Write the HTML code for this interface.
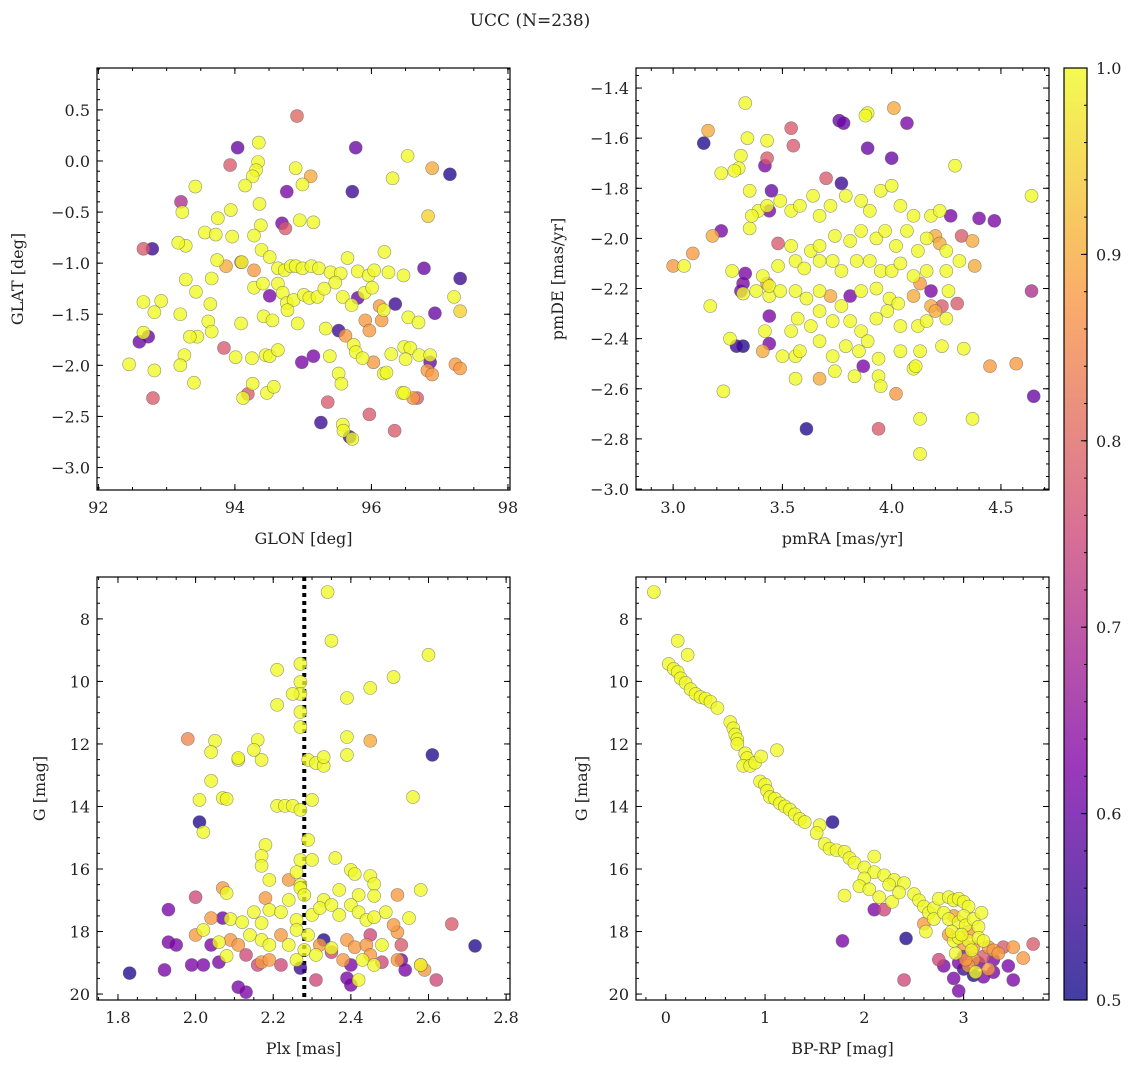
<!DOCTYPE html>
<html><head><meta charset="utf-8"><style>
body{margin:0;background:#fff}
svg text{font-family:"DejaVu Serif","Liberation Serif",serif;fill:#222}
</style></head><body>
<svg id="fig" width="1136" height="1067" xmlns="http://www.w3.org/2000/svg">
<defs><linearGradient id="plasma" x1="0" y1="1" x2="0" y2="0">
<stop offset="0" stop-color="#0d0887"/><stop offset="0.25" stop-color="#7e03a8"/><stop offset="0.5" stop-color="#cc4778"/><stop offset="0.75" stop-color="#f89540"/><stop offset="1" stop-color="#f0f921"/></linearGradient></defs>
<text x="530" y="26" font-size="17" text-anchor="middle">UCC (N=238)</text>
</svg>
<script>
const p1x=[94.91,94.04,94.35,95.77,96.53,96.89,97.15,93.93,94.34,94.31,94.26,94.89,95.11,94.15,93.42,94.76,94.99,96.31,95.72,93.21,93.23,94.36,93.75,93.94,94.38,93.96,94.28,94.69,94.74,94.95,95.15,96.83,92.79,92.66,93.28,93.17,93.56,93.72,93.74,93.87,94.1,94.39,94.51,94.63,94.73,94.82,94.89,94.99,95.12,95.23,95.4,95.55,95.65,95.8,95.96,96.04,96.19,96.25,96.47,96.77,97.3,93.28,93.43,93.64,93.66,94.09,94.28,94.28,94.41,94.51,94.63,94.7,94.76,94.86,95.01,95.09,95.21,95.31,95.47,95.58,95.71,95.8,95.9,96.01,96.12,96.18,96.35,96.54,96.69,96.93,97.21,97.3,92.6,92.66,92.66,92.82,92.92,93.2,93.45,93.61,93.66,94.09,94.42,94.55,94.77,94.92,95.33,95.52,95.62,95.74,95.91,95.97,96.15,96.29,96.48,96.57,96.7,96.86,92.73,93.34,93.84,94.01,94.25,94.45,94.51,94.63,94.98,95.15,95.39,95.77,95.87,96.03,96.18,96.22,96.5,97.23,97.3,96.86,92.45,92.82,93.26,94.26,94.47,94.57,95.52,95.56,96.82,96.67,96.89,93.4,94.12,94.19,96.45,96.48,96.61,95.36,95.97,95.26,95.58,95.59,95.68,95.72,96.34,92.8,93.2];
const p1y=[0.44,0.13,0.18,0.13,0.05,-0.07,-0.13,-0.04,-0.01,-0.09,-0.15,-0.07,-0.15,-0.24,-0.25,-0.3,-0.23,-0.17,-0.3,-0.4,-0.5,-0.42,-0.56,-0.48,-0.63,-0.74,-0.73,-0.61,-0.66,-0.58,-0.6,-0.54,-0.86,-0.86,-0.83,-0.8,-0.7,-0.72,-0.97,-1.03,-0.99,-0.87,-0.94,-1.05,-1.07,-1.03,-1.03,-1.05,-1.03,-1.05,-1.09,-1.1,-0.95,-1.08,-1.12,-1.07,-0.89,-1.09,-1.12,-1.05,-1.15,-1.16,-1.28,-1.4,-1.15,-0.99,-1.07,-1.24,-1.2,-1.32,-1.2,-1.29,-1.39,-1.36,-1.31,-1.34,-1.33,-1.25,-1.19,-1.33,-1.41,-1.34,-1.29,-1.24,-1.42,-1.46,-1.4,-1.53,-1.58,-1.49,-1.33,-1.47,-1.77,-1.68,-1.38,-1.48,-1.37,-1.5,-1.72,-1.57,-1.67,-1.59,-1.52,-1.56,-1.46,-1.59,-1.64,-1.66,-1.71,-1.8,-1.56,-1.66,-1.56,-1.89,-1.82,-1.83,-1.9,-1.97,-1.72,-1.72,-1.83,-1.92,-1.93,-1.9,-1.91,-1.85,-1.97,-1.91,-1.91,-1.87,-1.93,-1.97,-2.08,-2.07,-1.94,-1.99,-2.03,-1.9,-1.99,-2.05,-1.9,-2.18,-2.27,-2.21,-2.08,-2.18,-2.05,-2.32,-2.09,-2.17,-2.32,-2.28,-2.27,-2.27,-2.32,-2.36,-2.48,-2.56,-2.58,-2.64,-2.7,-2.72,-2.64,-2.32,-2.0];
const p1c=[.8,.6,1,.6,1,.9,.52,.78,1,1,1,1,.9,1,1,.62,1,1,.55,.7,1,1,1,1,1,1,1,.62,.78,1,1,.95,.55,.78,1,1,1,1,1,.9,1,1,1,1,1,1,1,1,1,1,1,1,1,1,1,1,1,1,1,.6,.55,1,1,1,1,.78,.88,1,1,.62,1,1,1,1,1,1,1,1,1,1,1,.6,1,1,.88,1,.55,1,1,.6,1,.95,.6,1,1,1,1,1,1,1,1,1,1,1,1,1,1,.55,.88,1,.88,.88,.88,1,1,1,1,.6,.6,1,.78,1,1,1,1,1,.62,.62,1,1,1,.88,1,1,1,.88,.88,1,1,1,1,1,1,1,1,1,.88,.78,.88,1,1,.78,1,1,.88,.78,.78,.55,1,1,.55,1,.78,.78,1];

const p2x=[3.33,3.16,3.14,3.34,3.31,3.3,3.22,3.28,3.43,3.43,3.42,3.45,3.54,3.55,3.76,3.78,3.89,3.88,4.01,4.07,3.89,4.0,4.29,3.77,3.7,3.35,3.39,3.43,3.49,3.54,3.58,3.64,3.67,3.72,3.79,3.86,3.9,3.95,4.0,4.04,4.1,4.18,4.22,4.2,4.27,4.37,4.4,4.64,3.18,3.22,3.35,3.36,3.44,3.48,3.54,3.63,3.67,3.74,3.81,3.86,3.93,3.97,4.02,4.07,4.12,4.16,4.22,4.25,4.32,3.0,3.09,3.05,3.27,3.33,3.41,3.43,3.48,3.56,3.6,3.67,3.73,3.77,3.84,3.9,3.95,4.0,4.04,4.1,4.16,4.25,4.31,4.38,3.17,3.32,3.31,3.32,3.38,3.44,3.44,3.49,3.56,3.61,3.67,3.72,3.77,3.81,3.86,3.93,3.99,4.03,4.1,4.13,4.18,4.23,4.3,4.26,4.18,3.26,3.29,3.42,3.44,3.54,3.57,3.63,3.67,3.73,3.81,3.86,3.93,3.98,4.04,4.12,4.16,4.2,4.25,3.32,3.44,3.5,3.56,3.58,3.67,3.73,3.79,3.85,3.89,3.94,4.04,4.13,4.23,4.33,3.41,3.56,3.67,3.74,3.83,3.87,3.94,4.1,4.11,4.45,4.57,4.64,3.23,3.61,3.95,4.02,4.13,3.94,4.13,4.37,4.65,4.47];
const p2y=[-1.46,-1.57,-1.62,-1.6,-1.67,-1.72,-1.74,-1.73,-1.61,-1.68,-1.71,-1.81,-1.56,-1.63,-1.53,-1.54,-1.5,-1.51,-1.48,-1.54,-1.64,-1.68,-1.71,-1.78,-1.76,-1.81,-1.89,-1.87,-1.85,-1.89,-1.87,-1.83,-1.91,-1.87,-1.83,-1.85,-1.89,-1.81,-1.79,-1.87,-1.91,-1.91,-1.89,-1.99,-1.91,-2.01,-1.92,-1.83,-1.99,-1.97,-1.96,-1.91,-1.89,-2.02,-2.03,-2.05,-2.03,-1.99,-2.01,-1.97,-2.0,-1.97,-2.03,-1.97,-2.05,-2.0,-2.02,-2.05,-1.99,-2.11,-2.06,-2.11,-2.13,-2.14,-2.15,-2.18,-2.11,-2.09,-2.12,-2.09,-2.09,-2.13,-2.09,-2.09,-2.13,-2.13,-2.1,-2.15,-2.13,-2.13,-2.09,-2.11,-2.27,-2.18,-2.21,-2.22,-2.21,-2.23,-2.19,-2.21,-2.21,-2.24,-2.21,-2.23,-2.27,-2.23,-2.21,-2.2,-2.24,-2.26,-2.23,-2.18,-2.21,-2.27,-2.26,-2.21,-2.27,-2.4,-2.43,-2.37,-2.31,-2.37,-2.32,-2.35,-2.29,-2.33,-2.33,-2.37,-2.32,-2.29,-2.35,-2.35,-2.33,-2.29,-2.32,-2.43,-2.42,-2.47,-2.47,-2.45,-2.41,-2.47,-2.43,-2.45,-2.41,-2.48,-2.45,-2.45,-2.43,-2.44,-2.45,-2.56,-2.56,-2.53,-2.55,-2.51,-2.55,-2.52,-2.51,-2.51,-2.5,-2.21,-2.61,-2.76,-2.59,-2.62,-2.72,-2.76,-2.86,-2.72,-2.63,-1.93];
const p2c=[1,.9,.52,1,1,1,1,1,1,.78,.62,.6,.78,.78,.6,.6,1,1,.9,.62,.6,.6,1,.55,.78,1,1,1,1,1,1,1,1,1,1,1,1,1,1,1,1,1,1,.9,.62,.9,.62,1,.9,.62,1,1,.62,.78,1,1,1,1,1,1,1,1,1,1,1,1,.9,1,.78,.88,.88,1,1,.62,1,.88,1,1,1,1,1,1,1,1,1,1,1,1,1,1,1,.9,1,.62,.62,1,1,1,1,1,1,1,1,.9,1,.62,1,1,1,1,.9,.88,.62,.78,.78,1,.9,1,.55,1,.62,1,1,1,1,1,1,1,1,1,1,1,1,.9,1,.52,.62,1,1,1,1,1,1,1,1,1,1,1,1,1,.9,1,.9,1,1,.62,1,1,1,.88,.88,.7,1,.52,1,.88,1,.78,1,1,.6,.62];

const p3x=[2.34,2.35,2.6,2.21,2.27,2.27,2.27,2.25,2.27,2.51,2.45,2.39,2.21,1.98,2.05,2.04,2.16,2.11,2.11,2.17,2.15,2.27,2.29,2.31,2.33,2.33,2.39,2.39,2.45,2.61,2.04,2.01,2.07,2.08,2.21,2.23,2.25,2.27,2.3,2.01,2.02,2.29,2.56,2.18,2.17,2.27,2.26,2.3,2.36,2.4,2.41,2.45,2.27,2.17,2.19,2.0,1.93,2.07,2.08,2.18,2.24,2.27,2.28,2.33,2.37,2.42,2.46,2.46,2.52,2.55,2.58,2.52,2.53,2.53,2.59,2.62,2.72,2.66,2.04,2.07,2.09,2.12,2.15,2.17,2.19,2.22,2.24,2.26,2.3,2.32,2.35,2.37,2.4,2.42,2.44,2.46,2.49,2.51,1.93,1.95,2.0,2.02,2.04,2.06,2.09,2.11,2.14,2.17,2.19,2.22,2.24,2.26,2.29,2.32,2.33,2.35,2.39,2.41,2.44,2.45,2.48,2.06,2.08,2.13,2.17,2.19,2.22,2.26,2.28,2.31,2.35,2.38,2.4,2.43,2.45,2.48,2.52,2.58,1.92,1.99,2.02,2.16,2.27,2.31,2.39,2.4,2.42,2.46,2.54,1.83,2.11,2.13,2.58];
const p3y=[7.14,8.7,9.15,9.63,9.44,10.02,10.4,10.4,10.98,9.86,10.21,10.53,10.75,11.84,11.9,12.26,11.87,12.51,12.45,12.51,12.19,11.46,12.51,12.61,12.7,12.42,12.35,11.78,11.9,12.35,13.18,13.79,13.73,13.76,13.98,13.98,13.98,14.11,13.79,14.5,14.82,15.07,13.7,15.23,15.58,15.71,16.1,15.71,15.65,16.03,16.16,16.22,16.51,15.9,16.35,16.9,17.3,16.61,16.77,16.93,16.35,16.61,16.83,16.99,16.67,16.83,16.48,16.86,16.83,17.57,16.67,18.02,18.43,18.91,19.23,19.55,18.46,17.76,17.57,17.57,17.6,17.7,17.38,17.73,17.31,17.38,16.99,17.63,17.47,17.25,17.15,17.47,17.15,17.38,17.63,17.54,17.38,17.79,18.34,18.43,18.11,17.95,18.43,18.34,18.27,18.43,18.11,18.27,18.43,18.11,18.43,17.95,18.11,18.43,18.27,18.53,18.27,18.5,18.43,18.11,18.43,18.98,18.78,18.75,18.98,18.91,19.07,18.91,18.59,18.75,18.66,18.91,19.07,18.91,18.75,18.98,18.91,19.07,19.23,19.07,19.07,19.07,19.17,19.55,19.49,19.71,19.55,19.07,19.23,19.33,19.78,19.94,19.07];
const p3c=[1,1,1,1,1,1,1,1,1,1,1,1,1,.85,1,1,1,1,1,1,1,1,1,1,1,1,1,1,.9,.52,1,1,1,1,1,1,1,1,1,.52,1,1,1,1,1,1,1,1,1,1,1,1,1,1,1,.75,.62,.88,1,.88,.88,1,1,1,1,1,1,1,.88,1,1,.88,.78,.62,.88,.75,.52,.78,.88,.6,1,1,1,1,1,1,1,1,1,1,1,1,1,1,1,1,1,.88,.62,.62,.88,1,.62,1,.88,.88,1,1,1,.88,1,1,1,.88,.52,1,.88,.88,.88,.75,1,.62,1,.75,.88,.88,.75,1,1,1,.75,.88,.62,1,.88,.75,.88,.88,.62,.62,.62,.75,.55,.75,.62,.62,1,1,.62,.52,.62,.62,1];

const p4x=[-0.12,0.12,0.22,0.03,0.08,0.12,0.15,0.2,0.25,0.3,0.35,0.4,0.45,0.52,0.65,0.68,0.7,0.72,0.72,0.8,0.82,0.78,0.85,0.9,0.96,1.12,0.95,1.0,1.02,1.05,1.1,1.15,1.2,1.25,1.3,1.35,1.4,1.55,1.52,1.68,1.6,1.65,1.72,1.8,1.85,1.9,2.0,2.1,2.1,2.2,2.3,2.25,2.4,2.0,1.8,1.95,2.05,2.15,2.28,2.35,2.5,2.55,2.6,2.65,2.7,2.75,2.85,2.9,2.95,3.0,3.05,2.6,2.62,2.7,2.8,2.85,2.9,2.95,3.0,3.02,3.05,3.1,3.15,2.85,2.9,2.95,3.0,3.05,3.1,3.15,3.2,3.25,3.3,3.35,3.2,3.1,3.0,2.95,3.05,3.15,3.25,3.3,3.4,3.5,3.6,3.7,3.45,3.3,3.0,2.9,3.2,3.5,2.1,2.2,1.78,2.42,2.4,2.75,2.8,2.95,3.1,2.88,2.98,3.08,3.18,2.92,3.02,3.12];
const p4y=[7.14,8.7,9.15,9.44,9.6,9.7,9.9,10.05,10.25,10.4,10.5,10.55,10.65,10.85,11.3,11.5,11.7,11.85,12.0,12.3,12.45,12.7,12.7,12.6,12.4,12.2,13.2,13.3,13.5,13.7,13.75,13.9,14.0,14.1,14.25,14.4,14.5,14.6,14.85,14.5,15.2,15.35,15.4,15.45,15.65,15.8,15.95,15.6,16.1,16.2,16.35,16.5,16.45,16.3,16.85,16.55,16.65,16.9,17.05,16.75,16.8,17.0,17.2,17.4,17.25,16.95,16.9,17.0,16.95,17.05,17.2,17.75,18.0,17.6,17.4,17.6,17.5,17.7,17.5,17.8,18.0,17.6,17.85,18.1,18.3,18.2,18.4,18.3,18.5,18.2,18.3,18.5,18.6,18.7,18.8,18.9,18.8,19.0,19.1,19.0,19.2,18.9,18.5,18.5,18.85,18.4,19.1,19.3,19.2,19.5,19.45,19.55,17.3,17.3,18.3,18.22,19.55,18.9,19.1,19.9,19.4,18.0,18.1,18.6,17.4,18.7,18.9,19.3];
const p4c=[1,1,1,1,1,1,1,1,1,1,1,1,1,1,1,1,1,1,1,1,1,1,1,1,1,1,1,1,1,1,1,1,1,1,1,1,1,1,1,.52,1,1,1,1,1,1,1,1,1,1,1,1,1,1,1,1,1,1,1,1,1,1,1,1,1,1,1,1,1,1,1,.88,1,1,1,1,.88,1,1,1,.88,1,1,.88,1,1,.88,1,.88,1,1,.88,.88,.88,.78,.88,.62,.62,.88,.62,.88,.62,.78,.88,.88,.78,.62,.62,.55,.62,.62,.62,.62,.75,.62,.52,.75,.75,.62,.62,.52,1,1,1,1,1,.88,1];

const NS='http://www.w3.org/2000/svg';
const svg=document.getElementById('fig');
function mk(tag,attrs,parent){const e=document.createElementNS(NS,tag);for(const k in attrs)e.setAttribute(k,attrs[k]);(parent||svg).appendChild(e);return e;}
const stops=[[0,[13,8,135]],[0.25,[126,3,168]],[0.5,[204,71,120]],[0.75,[248,149,64]],[1,[240,249,33]]];
function plasma(v){let t=Math.max(0,Math.min(1,(v-0.5)/0.5));for(let i=1;i<stops.length;i++){if(t<=stops[i][0]){const a=stops[i-1],b=stops[i];const f=(t-a[0])/(b[0]-a[0]);const c=a[1].map((x,j)=>Math.round(x+(b[1][j]-x)*f));return 'rgb('+c.join(',')+')';}}return 'rgb(240,249,33)';}
function fmt(v,d){const s=Math.abs(v).toFixed(d);return (v<-1e-9?'\u2212':'')+s;}

function panel(o){
  const g=mk('g',{});
  
  
  const sx=v=>o.L+(v-o.x0)/(o.x1-o.x0)*(o.R-o.L);
  const sy=v=>o.B-(v-o.y0)/(o.y1-o.y0)*(o.B-o.T);
  if(o.vline!==undefined){const l=mk('line',{x1:sx(o.vline),x2:sx(o.vline),y1:o.T,y2:o.B,stroke:'#000','stroke-width':4,'stroke-dasharray':'4,4'},g);
    }
  const idx=o.xs.map((_,i)=>i).sort((a,b)=>o.cs[a]-o.cs[b]);
  const n=Math.min(o.xs.length,o.ys.length,o.cs.length);
  for(const i of idx){if(i>=n)continue;
    const c=mk('circle',{cx:sx(o.xs[i]),cy:sy(o.ys[i]),r:6.5,fill:plasma(o.cs[i]),'fill-opacity':0.78,stroke:'#555','stroke-opacity':0.6,'stroke-width':0.6},g);
    
    }
  const lo=(a,b)=>Math.min(a,b),hi=(a,b)=>Math.max(a,b);
  function ticks(a,b,step){const r=[];const s=Math.ceil(lo(a,b)/step-1e-6);for(let k=s;k*step<=hi(a,b)+1e-9;k++)r.push(k*step);return r;}
  for(const v of ticks(o.x0,o.x1,o.xminor)){const x=sx(v);mk('line',{x1:x,x2:x,y1:o.B,y2:o.B-3,stroke:'#000'},g);mk('line',{x1:x,x2:x,y1:o.T,y2:o.T+3,stroke:'#000'},g);}
  for(const v of ticks(o.y0,o.y1,o.yminor)){const y=sy(v);mk('line',{x1:o.L,x2:o.L+3,y1:y,y2:y,stroke:'#000'},g);mk('line',{x1:o.R,x2:o.R-3,y1:y,y2:y,stroke:'#000'},g);}
  for(const v of ticks(o.x0,o.x1,o.xmajor)){const x=sx(v);mk('line',{x1:x,x2:x,y1:o.B,y2:o.B-6,stroke:'#000'},g);mk('line',{x1:x,x2:x,y1:o.T,y2:o.T+6,stroke:'#000'},g);
    const t=mk('text',{x:x,y:o.B+23,'font-size':16,'text-anchor':'middle'},g);t.textContent=fmt(v,o.xd);
    }
  for(const v of ticks(o.y0,o.y1,o.ymajor)){const y=sy(v);mk('line',{x1:o.L,x2:o.L+6,y1:y,y2:y,stroke:'#000'},g);mk('line',{x1:o.R,x2:o.R-6,y1:y,y2:y,stroke:'#000'},g);
    const t=mk('text',{x:o.L-7,y:y+6,'font-size':16,'text-anchor':'end'},g);t.textContent=fmt(v,o.yd);
    }
  const fr=mk('rect',{x:o.L,y:o.T,width:o.R-o.L,height:o.B-o.T,fill:'none',stroke:'#000','stroke-width':1.2},g);
  
  const xl=mk('text',{x:(o.L+o.R)/2,y:o.B+54,'font-size':16,'text-anchor':'middle'},g);xl.textContent=o.xlab;
  
  const yl=mk('text',{x:0,y:0,'font-size':16,'text-anchor':'middle',transform:'translate('+o.ylx+','+((o.T+o.B)/2)+') rotate(-90)'},g);yl.textContent=o.ylab;
  
}
panel({name:'glon-glat-panel',L:97,R:510,T:68,B:490,x0:91.98,x1:98.03,y0:-3.22,y1:0.91,xmajor:2,xminor:0.5,ymajor:0.5,yminor:0.1,xd:0,yd:1,xs:p1x,ys:p1y,cs:p1c,xlab:'GLON [deg]',ylab:'GLAT [deg]',ylx:23});
panel({name:'pm-panel',L:636,R:1049,T:68,B:490,x0:2.83,x1:4.72,y0:-3.004,y1:-1.32,xmajor:0.5,xminor:0.1,ymajor:0.2,yminor:0.05,xd:1,yd:1,xs:p2x,ys:p2y,cs:p2c,xlab:'pmRA [mas/yr]',ylab:'pmDE [mas/yr]',ylx:563});
panel({name:'plx-g-panel',L:97,R:510,T:577,B:1000,x0:1.746,x1:2.81,y0:20.19,y1:6.66,xmajor:0.2,xminor:0.05,ymajor:2,yminor:0.5,xd:1,yd:0,xs:p3x,ys:p3y,cs:p3c,xlab:'Plx [mas]',ylab:'G [mag]',ylx:45,vline:2.28});
panel({name:'cmd-panel',L:636,R:1049,T:577,B:1000,x0:-0.3,x1:3.86,y0:20.19,y1:6.66,xmajor:1,xminor:0.2,ymajor:2,yminor:0.5,xd:0,yd:0,xs:p4x,ys:p4y,cs:p4c,xlab:'BP-RP [mag]',ylab:'G [mag]',ylx:587});
const cb=mk('g',{});


mk('rect',{x:1064,y:68,width:23,height:932,fill:'url(#plasma)','fill-opacity':0.78},cb);
mk('rect',{x:1064,y:68,width:23,height:932,fill:'none',stroke:'#000','stroke-width':1.2},cb);
const cbTicks=[0.5,0.6,0.7,0.8,0.9,1.0];
for(let v=0.5;v<=1.0001;v+=0.02){const y=1000-(v-0.5)/0.5*932;mk('line',{x1:1087,x2:1084,y1:y,y2:y,stroke:'#000'},cb);}
for(const v of cbTicks){const y=1000-(v-0.5)/0.5*932;mk('line',{x1:1087,x2:1081,y1:y,y2:y,stroke:'#000'},cb);
  const t=mk('text',{x:1096,y:y+6,'font-size':16},cb);t.textContent=v.toFixed(1);
  }
</script>
</body></html>
